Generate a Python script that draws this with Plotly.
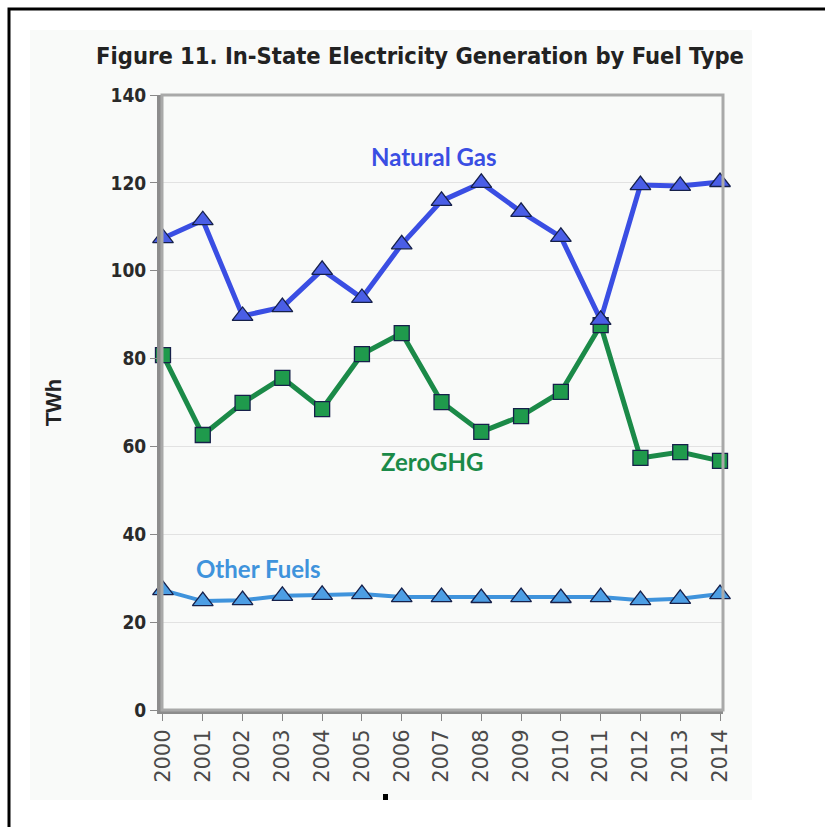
import plotly.graph_objects as go

# In-state electricity generation (TWh) by fuel type
years = [2000, 2001, 2002, 2003, 2004, 2005, 2006, 2007,
         2008, 2009, 2010, 2011, 2012, 2013, 2014]
natural_gas = [107.4, 111.5, 89.7, 91.7, 100.2, 93.8, 106.0, 115.9,
               120.0, 113.4, 107.7, 88.8, 119.5, 119.3, 120.2]
zero_ghg = [80.8, 62.6, 69.9, 75.6, 68.5, 81.0, 85.8, 70.1,
            63.3, 66.9, 72.4, 87.6, 57.4, 58.7, 56.7]
other_fuels = [27.3, 24.8, 25.0, 26.0, 26.2, 26.4, 25.7, 25.7,
               25.5, 25.7, 25.5, 25.7, 25.0, 25.3, 26.4]
y_ticks = [0, 20, 40, 60, 80, 100, 120, 140]

W, H = 825, 827
L, R, T, B = 162, 102, 95, 117  # plot-area margins in px

def px_x(p):
    return (p - L) / (W - L - R)

def px_y(p):
    return (H - B - p) / (H - T - B)

fig = go.Figure()

series = [
    ("Other Fuels", other_fuels, "#3f93dc", "#4d9ee4", "triangle-up", 4),
    ("ZeroGHG", zero_ghg, "#1b8a48", "#1f9a4c", "square", 5),
    ("Natural Gas", natural_gas, "#3a4ee3", "#4a5ee6", "triangle-up", 5),
]
for name, vals, lc, mc, sym, lw in series:
    fig.add_trace(go.Scatter(
        x=years, y=vals, name=name, mode="lines+markers",
        line=dict(color=lc, width=lw),
        marker=dict(symbol=sym, size=15 if sym == "square" else 18,
                    color=mc, line=dict(color="#16204a", width=1.3)),
        cliponaxis=False, showlegend=False,
    ))

# series labels placed inside the plot
labels = [
    ("Natural Gas", 2006.8, 126, "#3a4ee3"),
    ("ZeroGHG", 2006.75, 56.5, "#1b8a48"),
    ("Other Fuels", 2002.4, 32.3, "#3f93dc"),
]
for text, x, y, c in labels:
    fig.add_annotation(x=x, y=y, text=f"<b>{text}</b>", showarrow=False,
                       font=dict(family="Lato, Open Sans, sans-serif", size=24, color=c))

shapes = [
    # faint panel behind the chart
    dict(type="rect", xref="paper", yref="paper", layer="below",
         x0=px_x(30), x1=px_x(752), y0=px_y(800), y1=px_y(30),
         fillcolor="#f9faf9", line=dict(width=0)),
    # plot-area frame
    dict(type="rect", xref="paper", yref="paper", layer="above",
         x0=0, x1=1, y0=0, y1=1, line=dict(color="#a9a9a9", width=3)),
    # outer black frame running off the page
    dict(type="rect", xref="paper", yref="paper", layer="above",
         x0=px_x(9), x1=px_x(840), y0=px_y(840), y1=px_y(9),
         line=dict(color="black", width=3)),
    # small black mark below the axis labels
    dict(type="rect", xref="paper", yref="paper", layer="above",
         x0=px_x(383), x1=px_x(388), y0=px_y(800), y1=px_y(794),
         fillcolor="black", line=dict(width=0)),
]

fig.update_layout(
    width=W, height=H,
    margin=dict(l=L, r=R, t=T, b=B),
    paper_bgcolor="white", plot_bgcolor="white",
    shapes=shapes,
    title=dict(text="<b>Figure 11. In-State Electricity Generation by Fuel Type</b>",
               xref="container", x=420 / W, xanchor="center",
               yref="container", y=1 - 56 / H, yanchor="middle",
               font=dict(family="DejaVu Sans Condensed, Arial",
                         size=23.5, color="#222")),
    font=dict(family="Liberation Sans, Arial", color="#333"),
)

fig.update_xaxes(
    range=[1999.975, 2014.075], tickvals=years, ticktext=[str(y) for y in years],
    tickangle=-90, ticks="outside", ticklen=7, tickcolor="#888",
    showline=True, linecolor="#8c8c8c", linewidth=4, showgrid=False, zeroline=False,
    tickfont=dict(family="DejaVu Sans, Verdana", size=21, color="#4a4a4a"),
)
fig.update_yaxes(
    range=[0, 140], tickvals=y_ticks, ticks="outside", ticklen=7, tickcolor="#888",
    showline=True, linecolor="#8c8c8c", linewidth=5,
    showgrid=True, gridcolor="#e2e2e2", gridwidth=1, zeroline=False,
    tickfont=dict(family="DejaVu Sans Condensed, Arial",
                  size=19, color="#2a2a2a", weight="bold"),
    title=dict(text="<b>TWh</b>", standoff=44,
               font=dict(family="Liberation Sans, Arial", size=22, color="#222")),
)

fig.write_html("out.html")
